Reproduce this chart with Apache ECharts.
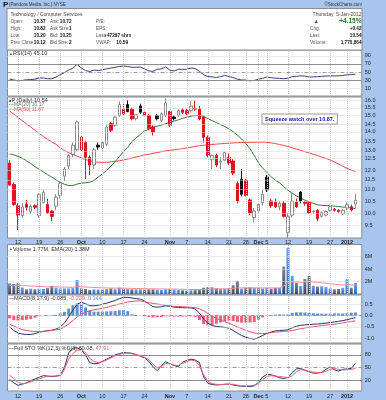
<!DOCTYPE html>
<html><head><meta charset="utf-8">
<script src="https://cdn.jsdelivr.net/npm/echarts@6.0.0/dist/echarts.min.js"></script>
<style>html,body{margin:0;padding:0;background:#a7c5ee;}#c{width:386px;height:400px;}</style>
</head><body><div id="c"></div>
<script>
// ---------------- DATA ----------------
const dates = ['2011-09-08','2011-09-09','2011-09-12','2011-09-13','2011-09-14','2011-09-15','2011-09-16','2011-09-19','2011-09-20','2011-09-21','2011-09-22','2011-09-23','2011-09-26','2011-09-27','2011-09-28','2011-09-29','2011-09-30',
'2011-10-03','2011-10-04','2011-10-05','2011-10-06','2011-10-07','2011-10-10','2011-10-11','2011-10-12','2011-10-13','2011-10-14','2011-10-17','2011-10-18','2011-10-19','2011-10-20','2011-10-21','2011-10-24','2011-10-25','2011-10-26','2011-10-27','2011-10-28','2011-10-31',
'2011-11-01','2011-11-02','2011-11-03','2011-11-04','2011-11-07','2011-11-08','2011-11-09','2011-11-10','2011-11-11','2011-11-14','2011-11-15','2011-11-16','2011-11-17','2011-11-18','2011-11-21','2011-11-22','2011-11-23','2011-11-25','2011-11-28','2011-11-29','2011-11-30',
'2011-12-01','2011-12-02','2011-12-05','2011-12-06','2011-12-07','2011-12-08','2011-12-09','2011-12-12','2011-12-13','2011-12-14','2011-12-15','2011-12-16','2011-12-19','2011-12-20','2011-12-21','2011-12-22','2011-12-23','2011-12-27','2011-12-28','2011-12-29','2011-12-30',
'2012-01-03','2012-01-04','2012-01-05'];
const tickDates = ['2011-09-12','2011-09-19','2011-09-26','2011-10-03','2011-10-10','2011-10-17','2011-10-24','2011-11-01','2011-11-07','2011-11-14','2011-11-21','2011-11-28','2011-12-01','2011-12-05','2011-12-12','2011-12-19','2011-12-27','2012-01-03'];
const tickTexts = ['12','19','26','Oct','10','17','24','Nov','7','14','21','28','Dec','5','12','19','27','2012'];
const boldTicks = ['Oct','Nov','Dec','2012'];

const open = [12.3,11.25,10.3,9.88,10.36,10.06,10.3,9.88,10.44,10.35, 10.07,10.28,10.75,11.65,12.16,12.75,13.0,13.0,13.4,12.6, 12.2,13.25,13.1,13.3,14.5,14.4,15.0,15.4,15.7,15.4, 14.8,15.6,15.2,15.0,14.3,15.0,14.7,15.0,15.25,14.9, 15.0,15.35,15.3,15.3,15.4,15.4,14.9,13.7,12.5,12.7, 12.35,12.45,12.6,12.4,11.3,11.5,11.45,10.55,9.8,10.07, 10.43,11.6,10.5,10.45,10.25,10.4,9.2,9.9,10.45,10.9, 10.45,10.45,10.05,10.1,9.85,9.9,10.1,10.15,10.1,9.95, 10.2,10.25,10.37];
const high = [12.45,11.35,10.4,10.4,10.55,10.35,10.35,10.85,11.0,10.6, 10.1,10.8,11.4,12.1,12.8,13.4,14.7,13.8,13.5,12.7, 13.1,13.4,13.5,14.4,14.6,15.0,15.9,15.8,16.0,15.5, 15.1,15.75,15.3,15.1,14.4,15.1,15.2,16.1,15.3,15.0, 15.4,15.45,15.4,15.95,15.95,15.6,15.0,13.8,12.75,12.8, 12.6,12.9,12.8,12.5,11.4,12.0,11.5,10.6,10.2,10.4, 11.0,11.7,10.6,10.6,10.5,10.5,10.0,10.9,10.6,10.95, 10.5,10.5,10.1,10.15,10.05,10.1,10.35,10.2,10.15,10.15, 10.45,10.35,10.82];
const low = [11.2,10.3,9.3,9.8,10.1,9.95,10.15,9.8,10.4,9.95, 9.65,10.1,10.6,11.4,12.0,12.6,12.9,12.9,11.5,11.7, 12.0,13.0,12.9,13.2,14.0,14.3,14.9,15.0,15.2,14.7, 14.7,15.1,14.95,14.1,13.8,14.7,14.6,14.9,14.3,14.7, 14.9,15.1,15.0,15.2,15.3,14.7,13.4,12.6,12.0,12.1, 12.0,12.4,12.2,11.7,10.4,10.7,10.7,9.9,9.6,10.0, 10.3,10.9,10.2,10.2,10.1,9.8,9.0,9.8,10.2,10.4, 10.3,9.95,9.95,9.65,9.8,9.85,10.05,10.05,10.0,9.9, 10.1,10.05,10.20];
const close = [11.22,10.35,9.9,10.25,10.23,10.27,10.23,10.8,10.9,10.0, 9.85,10.67,11.3,12.0,12.7,13.25,14.6,13.7,12.6,12.2, 13.0,13.15,13.4,14.3,14.1,14.9,15.7,15.1,15.25,14.8, 15.05,15.2,15.0,14.2,14.0,14.8,15.1,15.8,14.4,14.8, 15.3,15.2,15.1,15.6,15.45,14.8,13.7,12.7,12.7,12.2, 12.4,12.85,12.3,11.8,10.5,10.8,10.75,10.0,10.07,10.35, 10.8,11.0,10.3,10.25,10.4,9.85,9.85,10.5,10.25,10.5, 10.4,10.0,10.06,9.75,10.0,10.05,10.25,10.1,10.05,10.1, 10.35,10.12,10.54];
const ma20 = [12.78,12.72,12.65,12.55,12.42,12.28,12.12,11.98,11.85,11.72, 11.6,11.47,11.35,11.26,11.2,11.2,11.27,11.31,11.33,11.36, 11.44,11.6,11.76,11.92,12.14,12.37,12.63,12.9,13.13,13.45, 13.66,13.87,14.06,14.16,14.27,14.34,14.41,14.49,14.57,14.65, 14.73,14.82,14.89,14.95,14.99,15.0,14.95,14.8,14.68,14.56, 14.44,14.33,14.18,14.02,13.82,13.6,13.35,13.05,12.7,12.3, 12.05,11.82,11.62,11.45,11.33,11.15,10.97,10.85,10.73,10.63, 10.54,10.46,10.4,10.34,10.31,10.3,10.3,10.28,10.26,10.24, 10.22,10.2,10.17];
const ma50 = [15.28,15.08,14.88,14.68,14.48,14.3,14.1,13.92,13.74,13.58, 13.43,13.3,13.12,12.96,12.85,12.74,12.66,12.57,12.48,12.42, 12.36,12.34,12.34,12.34,12.36,12.39,12.42,12.46,12.51,12.56, 12.62,12.67,12.72,12.76,12.81,12.85,12.9,12.94,12.97,13.0, 13.03,13.06,13.1,13.14,13.18,13.22,13.25,13.27,13.29,13.31, 13.33,13.35,13.36,13.38,13.39,13.4,13.41,13.41,13.41,13.42, 13.42,13.41,13.38,13.34,13.29,13.24,13.18,13.11,13.04,12.97, 12.9,12.83,12.76,12.69,12.61,12.54,12.46,12.36,12.25,12.14, 12.03,11.95,11.87];
const volume = [1.7,1.6,1.75,1.05,0.75,0.85,0.75,0.85,0.8,0.95, 1.3,1.0,0.9,0.9,0.9,0.95,2.25,0.9,0.8,0.65, 0.75,0.7,0.72,0.8,0.9,0.75,1.0,0.8,0.8,0.75, 0.75,0.75,0.7,0.75,0.75,0.7,0.65,0.75,0.8,0.7, 0.65,0.6,0.55,0.6,0.65,0.7,1.0,1.1,1.1,0.9, 0.85,0.85,0.9,1.4,2.1,0.85,1.05,1.05,1.0,1.0, 0.9,1.0,0.85,1.0,1.0,4.4,7.4,2.9,1.8,1.3, 2.4,2.9,1.3,1.2,1.25,1.1,0.9,0.75,0.8,1.0, 2.4,1.0,1.77];
const volEma = [1.35,1.37,1.4,1.37,1.32,1.28,1.23,1.2,1.16,1.14, 1.15,1.14,1.12,1.1,1.08,1.07,1.18,1.15,1.12,1.08, 1.05,1.02,0.99,0.97,0.96,0.94,0.95,0.93,0.92,0.9, 0.88,0.87,0.85,0.84,0.83,0.82,0.8,0.8,0.8,0.79, 0.78,0.76,0.74,0.73,0.72,0.72,0.75,0.78,0.81,0.82, 0.82,0.82,0.83,0.88,0.99,0.98,0.99,0.99,0.99,0.99, 0.98,0.98,0.97,0.97,0.97,1.3,1.86,1.96,1.94,1.88, 1.93,2.0,1.93,1.86,1.8,1.73,1.65,1.56,1.48,1.43, 1.52,1.47,1.38];
const rsi = [33,31,29,30,31.5,32,33,36,36,34, 34,38,44,49,55,60,69,60,54,51.5, 55,54,56,58,60,62,64,65,64,62, 62,62.5,58,53,52,57,58,63,55,53, 57,57,57,60,59,52,44,39.5,38.5,37, 39,42,39,37,33,31,31,29,30,33, 35,38,36.5,35.5,35,34,35.5,39,40,41, 40.5,38,38.5,39,40,40.5,41,41,41,42, 43.5,44,45.1];
const macd = [-0.5,-0.66,-0.77,-0.82,-0.84,-0.84,-0.8,-0.74,-0.7,-0.67, -0.65,-0.6,-0.5,-0.33,-0.05,0.25,0.5,0.6,0.53,0.45, 0.44,0.47,0.51,0.56,0.62,0.68,0.76,0.82,0.82,0.79, 0.76,0.74,0.66,0.52,0.4,0.38,0.4,0.44,0.42,0.38, 0.37,0.36,0.35,0.35,0.3,0.12,-0.15,-0.33,-0.44,-0.48, -0.5,-0.52,-0.56,-0.66,-0.78,-0.88,-0.96,-1.02,-1.05,-0.98, -0.88,-0.79,-0.73,-0.68,-0.66,-0.65,-0.63,-0.54,-0.47,-0.43, -0.41,-0.4,-0.38,-0.37,-0.35,-0.33,-0.31,-0.28,-0.25,-0.22, -0.18,-0.13,-0.085];
const signal = [-0.38,-0.46,-0.55,-0.62,-0.66,-0.69,-0.71,-0.71,-0.7,-0.68, -0.66,-0.63,-0.6,-0.5,-0.37,-0.22,-0.05,0.07,0.16,0.22, 0.26,0.29,0.33,0.37,0.42,0.47,0.52,0.57,0.61,0.64, 0.66,0.66,0.62,0.58,0.55,0.52,0.49,0.46,0.44,0.42, 0.41,0.4,0.39,0.38,0.36,0.31,0.22,0.1,-0.02,-0.12, -0.2,-0.27,-0.34,-0.42,-0.5,-0.57,-0.65,-0.72,-0.77,-0.8, -0.8,-0.78,-0.76,-0.73,-0.72,-0.7,-0.69,-0.66,-0.62,-0.58, -0.55,-0.52,-0.49,-0.47,-0.44,-0.42,-0.4,-0.38,-0.35,-0.32, -0.29,-0.26,-0.229];
const hist = [-0.12,-0.2,-0.22,-0.2,-0.18,-0.15,-0.09,-0.03,0.0,0.01, 0.02,0.04,0.1,0.17,0.32,0.47,0.55,0.53,0.37,0.23, 0.18,0.18,0.18,0.19,0.2,0.21,0.24,0.25,0.2,0.06, 0.02,0.0,-0.03,-0.06,-0.08,-0.07,-0.06,-0.03,-0.04,-0.04, -0.04,-0.04,-0.04,-0.03,-0.06,-0.19,-0.37,-0.43,-0.42,-0.36, -0.3,-0.25,-0.22,-0.24,-0.28,-0.31,-0.31,-0.3,-0.28,-0.18, -0.08,-0.01,0.03,0.05,0.06,0.05,0.06,0.12,0.15,0.15, 0.14,0.12,0.11,0.1,0.09,0.09,0.09,0.1,0.1,0.1, 0.11,0.13,0.144];
const stoK = [22,14,8,11,14,19,23,27,31,30, 28.5,30,32,50,85,96,97,92,80,62, 59,60,65,70,75,80,83,86,85,84, 81,77,73,65,52,43,55,64,59,55, 52,63,67,70,68,62,28,13,10,9, 9.5,10.5,11,9,7,6,5.5,5,7,15, 28,34,33,30,26,24,27,38,47,48, 44,40,37,37,39,46,52,45,42,46, 47,48,60.08];
const stoD = [32,24,15,12,13,16,20,23,27,29.5, 30,30,31,45,70,83,91,92,86,72, 65,62,64,68,73,78,81,84,84.5,83, 81,78,74,69,58,50,53,60,59,56, 55,60,64,68,66,55,33,18,12,10.5, 10,10.5,11,10.5,8.5,7,6.5,7,8.5,12, 22,29,31,30,29,28,26,31,40,45, 44,41,39,38.5,38.5,41,46,48,46,44.5, 45,46,47.91];
const priceTicks = [16.0,15.5,15.0,14.5,14.0,13.5,13.0,12.5,12.0,11.5,11.0,10.5,10.0,9.5];
const rsiTicks = [90,70,50,30,10];
const volTicks = [2,4,6];
const macdTicks = [0.5,0.0,-0.5,-1.0];
const stoTicks = [80,50,20];
const resistance = 10.87;
const trendFrom = ['2011-12-12', 9.1];
const trendTo = [83, 10.03];
const resistFrom = '2011-12-08';

// ---------------- CHART ----------------
const FONT = '"Liberation Sans", Arial, sans-serif';
const chart = echarts.init(document.getElementById('c'), null, {renderer:'canvas'});
const LEFT = 7.5, RIGHT = 24.2;
const gridPos = [
  {top:50, height:46},
  {top:97, height:141},
  {top:244.5, height:49.5},
  {top:295, height:48},
  {top:344, height:47}
];
const yRanges = [
  [-8, 104],
  [Math.log(9.0), Math.log(16.2)],
  [0, 7.92],
  [-1.219, 0.924],
  [-5.4, 106]
];
const ln = Math.log;
const tickSet = new Set(tickDates);

function vLines(){
  return tickDates.map(d => ({xAxis:d, lineStyle:{color:'#cfcfcf', type:'dotted', width:1}, label:{show:false}}));
}
function hLine(v, text, style){
  return {yAxis:v, lineStyle:Object.assign({color:'#d6d6d6', type:'dotted', width:1}, style||{}),
    label:{show:true, position:'end', formatter:text, color:'#222', fontSize:5.5, fontFamily:FONT, distance:3}};
}
function guide(k, hls){
  return {type:'line', xAxisIndex:k, yAxisIndex:k, data:dates.map(()=>null), z:1, silent:true,
    symbol:'none', animation:false,
    markLine:{silent:true, symbol:['none','none'], animation:false, data:[...vLines(), ...hls]}};
}

const candleData = close.map((c,i) => {
  const o = open[i];
  const fall = i > 0 ? c < close[i-1] : true;
  const hollow = c >= o;
  const col = fall ? '#e0141e' : '#111';
  const border = hollow ? (fall ? '#e0141e' : '#8a8a8a') : col;
  const fill = hollow ? '#ffffff' : col;
  return {value:[ln(o), ln(c), ln(low[i]), ln(high[i])],
    itemStyle:{color:fill, color0:fill, borderColor:border, borderColor0:border, borderWidth:1}};
});
const volData = volume.map((v,i) => {
  const up = i > 0 ? close[i] >= close[i-1] : false;
  const c = up ? ['#6fa0e6','#2f6cc4'] : ['#7c8498','#3e4760'];
  return {value:v, itemStyle:{color:new echarts.graphic.LinearGradient(0,0,0,1,[{offset:0,color:c[0]},{offset:1,color:c[1]}])}};
});
const histData = hist.map(v => ({value:v, itemStyle:{color: v >= 0 ? '#5d90d8' : '#e8607c'}}));

const xAxes = gridPos.map((g,k) => ({
  type:'category', gridIndex:k, data:dates, max:83, boundaryGap:true,
  axisLine:{show:false}, axisTick:{show:false}, splitLine:{show:false},
  axisLabel:{show:(k===1||k===4), interval:(idx,val)=>tickSet.has(val), margin:(k===1?1.2:2),
    fontSize:5.5, fontFamily:FONT, color:'#222',
    formatter:(val)=>{const t = tickTexts[tickDates.indexOf(val)]; if(t===undefined) return ''; return boldTicks.includes(t) ? '{b|'+t+'}' : t;},
    rich:{b:{fontWeight:'bold', fontSize:5.5, fontFamily:FONT, color:'#222'}}}
}));
const yAxes = gridPos.map((g,k) => ({type:'value', gridIndex:k, min:yRanges[k][0], max:yRanges[k][1], show:false, scale:true}));

const solid = {color:'#8c8c8c', type:'solid', width:1};
const dashed = {color:'#9a9a9a', type:[4,2,1,2], width:1};

const series = [
  guide(0, rsiTicks.map(v => hLine(v, String(v), (v===70||v===30)? solid : (v===50 ? dashed : null)))),
  {type:'line', xAxisIndex:0, yAxisIndex:0, data:rsi, symbol:'none', lineStyle:{color:'#34427e', width:1}, z:3},
  guide(1, priceTicks.map(v => hLine(ln(v), v.toFixed(1)))),
  {type:'line', xAxisIndex:1, yAxisIndex:1, data:ma50.map(ln), symbol:'none', lineStyle:{color:'#f04848', width:1}, z:2},
  {type:'line', xAxisIndex:1, yAxisIndex:1, data:ma20.map(ln), symbol:'none', lineStyle:{color:'#2f7a2f', width:1}, z:2},
  {type:'candlestick', xAxisIndex:1, yAxisIndex:1, data:candleData, barWidth:3, z:3,
    markLine:{silent:true, symbol:['none','none'], animation:false, label:{show:false},
      data:[
        [{coord:[resistFrom, ln(resistance)], lineStyle:{color:'#2b3cf0', width:1.2, type:'solid'}}, {coord:[83, ln(resistance)]}],
        [{coord:[trendFrom[0], ln(trendFrom[1])], lineStyle:{color:'#2b3cf0', width:1.5, type:'solid'}}, {coord:[trendTo[0], ln(trendTo[1])]}]
      ]}},
  guide(2, volTicks.map(v => hLine(v, v+'M'))),
  {type:'bar', xAxisIndex:2, yAxisIndex:2, data:volData, barWidth:3, z:2},
  {type:'line', xAxisIndex:2, yAxisIndex:2, data:volEma, symbol:'none', lineStyle:{color:'#f28c8c', width:1}, z:3},
  guide(3, macdTicks.map(v => hLine(v, v.toFixed(1), v===0 ? dashed : null))),
  {type:'bar', xAxisIndex:3, yAxisIndex:3, data:histData, barWidth:3, z:2},
  {type:'line', xAxisIndex:3, yAxisIndex:3, data:macd, symbol:'none', lineStyle:{color:'#24306a', width:1}, z:3},
  {type:'line', xAxisIndex:3, yAxisIndex:3, data:signal, symbol:'none', lineStyle:{color:'#f0506e', width:1}, z:3},
  guide(4, stoTicks.map(v => hLine(v, String(v), v===50 ? dashed : solid))),
  {type:'line', xAxisIndex:4, yAxisIndex:4, data:stoK, symbol:'none', lineStyle:{color:'#24306a', width:1}, z:3},
  {type:'line', xAxisIndex:4, yAxisIndex:4, data:stoD, symbol:'none', lineStyle:{color:'#f06078', width:1}, z:3}
];

function T(x, y, text, opt){
  opt = opt || {};
  return {type:'text', x:x, y:y, z:100, silent:true, style:Object.assign({text:text, fill:opt.fill||'#333',
    font:(opt.bold?'bold ':'')+(opt.size||4.7)+'px '+FONT, align:opt.align||'left', verticalAlign:'middle'}, opt.rich?{rich:opt.rich}:{})};
}
const rowY = [14.7, 21.5, 28.6, 35.6, 42.4];
const graphics = [
  {type:'rect', shape:{x:7, y:8.5, width:355, height:41.5}, style:{fill:'#fff', stroke:'#8c8c8c', lineWidth:1}, z:50},
  T(3, 4.8, 'P', {bold:true, size:8, fill:'#111'}),
  T(9, 5, '(Pandora Media, Inc.) NYSE', {size:4.5, fill:'#333'}),
  T(362, 5, '\u00A9StockCharts.com', {size:4.5, fill:'#333', align:'right'}),
  T(10.5, rowY[0], 'Technology / Computer Services', {fill:'#444', size:5}),
  T(361.5, rowY[0], 'Thursday  5-Jan-2012', {fill:'#444', align:'right', size:5}),
  T(10.5, rowY[1], 'Open:', {fill:'#555'}), T(45.5, rowY[1], '10.37', {bold:true, fill:'#111', align:'right'}),
  T(10.5, rowY[2], 'High:', {fill:'#555'}), T(45.5, rowY[2], '10.82', {bold:true, fill:'#111', align:'right'}),
  T(10.5, rowY[3], 'Low:', {fill:'#555'}), T(45.5, rowY[3], '10.20', {bold:true, fill:'#111', align:'right'}),
  T(10.5, rowY[4], 'Prev Close:', {fill:'#555'}), T(45.5, rowY[4], '10.12', {bold:true, fill:'#111', align:'right'}),
  T(50, rowY[1], 'Ask:', {fill:'#555'}), T(71.5, rowY[1], '10.72', {bold:true, fill:'#111', align:'right'}),
  T(50, rowY[2], 'Ask Size:', {fill:'#555'}), T(71.5, rowY[2], '1', {bold:true, fill:'#111', align:'right'}),
  T(50, rowY[3], 'Bid:', {fill:'#555'}), T(71.5, rowY[3], '10.25', {bold:true, fill:'#111', align:'right'}),
  T(50, rowY[4], 'Bid Size:', {fill:'#555'}), T(71.5, rowY[4], '2', {bold:true, fill:'#111', align:'right'}),
  T(96, rowY[1], 'P/E:', {fill:'#555'}),
  T(96, rowY[2], 'EPS:', {fill:'#555'}),
  T(96, rowY[3], 'Last:', {fill:'#555'}), T(103.5, rowY[3], '\u25BC', {fill:'#d01020', size:4}),
  T(107, rowY[3], '47297 shrs', {bold:true, fill:'#111'}),
  T(96, rowY[4], 'VWAP:', {fill:'#555'}), T(128, rowY[4], '10.59', {bold:true, fill:'#111', align:'right'}),
  T(313.5, rowY[1], '\u25B2', {fill:'#1e7a1e', size:5.5}),
  T(361.5, rowY[1], '+4.15%', {bold:true, size:6.5, fill:'#1e7a1e', align:'right'}),
  T(310, rowY[2], 'Chg:', {fill:'#555'}), T(361.5, rowY[2], '+0.42', {bold:true, fill:'#111', align:'right'}),
  T(310, rowY[3], 'Last:', {fill:'#555'}), T(361.5, rowY[3], '10.54', {bold:true, fill:'#111', align:'right'}),
  T(310, rowY[4], 'Volume:', {fill:'#555'}), T(361.5, rowY[4], '1,770,864', {bold:true, fill:'#111', align:'right'}),
  // panel legends
  T(9, 53.5, '{i|\u25B2}{t|RSI(14) 45.10}', {rich:{i:{fill:'#3b6cc0', fontSize:4, fontFamily:FONT}, t:{fill:'#333', fontSize:5.5, fontFamily:FONT}}}),
  T(9, 100.5, '{i|\u25A0}{t|P (Daily) 10.54}', {rich:{i:{fill:'#555', fontSize:4, fontFamily:FONT}, t:{fill:'#333', fontSize:5.5, fontFamily:FONT}}}),
  T(9, 105, '{i|\u2014}{t|MA(20) 10.17}', {rich:{i:{fill:'#2f7a2f', fontSize:5, fontFamily:FONT}, t:{fill:'#5a7a5a', fontSize:5, fontFamily:FONT}}}),
  T(9, 110, '{i|\u2014}{t|MA(50) 11.87}', {rich:{i:{fill:'#f04848', fontSize:5, fontFamily:FONT}, t:{fill:'#e05050', fontSize:5, fontFamily:FONT}}}),
  T(9, 249, '{i|\u25B2}{t|Volume 1.77M, EMA(20) 1.38M}', {rich:{i:{fill:'#3b6cc0', fontSize:4, fontFamily:FONT}, t:{fill:'#333', fontSize:5.5, fontFamily:FONT}}}),
  T(9, 298.3, '{i|\u2014}{t|MACD(8,17,9) -0.085, }{r|-0.229, }{b|0.144}', {rich:{i:{fill:'#24306a', fontSize:5, fontFamily:FONT}, t:{fill:'#333', fontSize:5.5, fontFamily:FONT}, r:{fill:'#f0506e', fontSize:5.5, fontFamily:FONT}, b:{fill:'#5d90d8', fontSize:5.5, fontFamily:FONT}}}),
  T(9, 348.5, '{i|\u2014}{t|Full STO %K(12,3) %D(3) 60.08, }{r|47.91}', {rich:{i:{fill:'#24306a', fontSize:5, fontFamily:FONT}, t:{fill:'#333', fontSize:5.5, fontFamily:FONT}, r:{fill:'#f06078', fontSize:5.5, fontFamily:FONT}}}),
  {type:'text', x:262.5, y:114.5, z:100, silent:true, style:{text:'Squeeze watch over 10.87.', fill:'#1b22b8',
    font:'bold 5.5px '+FONT, backgroundColor:'#fff', borderColor:'#9a9a9a', borderWidth:1, padding:[1.5,2.5,1.5,2.5]}}
];

chart.setOption({
  animation:false,
  backgroundColor:'#a7c5ee',
  grid: gridPos.map(g => ({left:LEFT, right:RIGHT, top:g.top, height:g.height, show:true,
    backgroundColor:'#ffffff', borderColor:'#8c8c8c', borderWidth:1, containLabel:false, outerBoundsMode:'none'})),
  xAxis: xAxes,
  yAxis: yAxes,
  series: series,
  graphic: graphics
});
</script>
</body></html>
